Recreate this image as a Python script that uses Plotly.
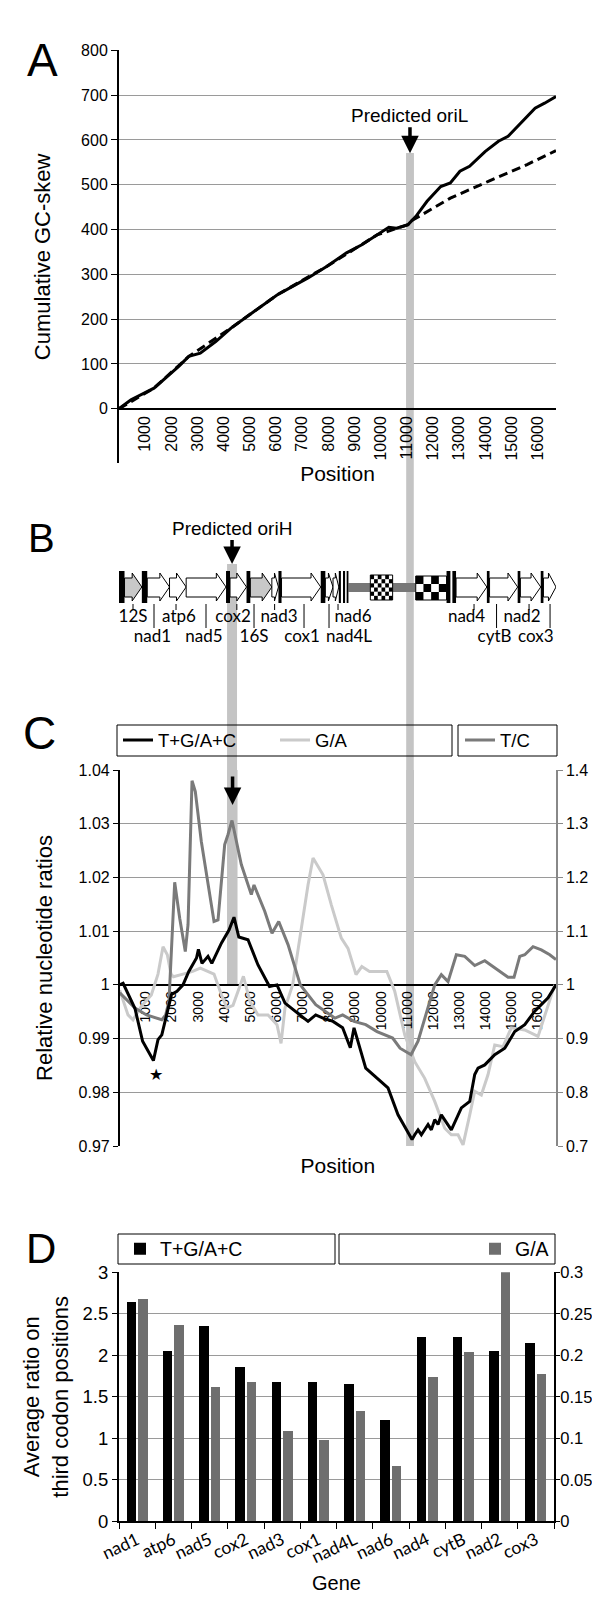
import plotly.graph_objects as go

W, H = 600, 1600
F = "Liberation Sans, Arial, sans-serif"
FL = "Lato, Carlito, sans-serif"


def py(p):
    return 1 - p / H


def pxf(p):
    return p / W


# ---------------- Panel A : cumulative GC-skew ----------------
a_pos = [0, 459, 1338, 1930, 2293, 2668, 3107, 3696, 4281, 5160, 6039, 6635, 7224,
         7950, 8695, 9280, 9861, 10312, 10606, 11046, 11340, 11772, 12295, 12662,
         13029, 13396, 13989, 14500, 14868, 15456, 15900, 16263, 16700]
a_skew = [0, 20, 46, 76, 95, 117, 124, 150, 180, 217, 254, 273, 292, 318, 348, 366,
          388, 405, 403, 411, 429, 463, 496, 504, 530, 541, 574, 597, 608, 645, 671,
          682, 697]
a_trend_pos = [0, 1338, 2668, 4281, 6039, 7950, 9861, 11046, 11191, 12662, 14133, 15594, 16700]
a_trend = [0, 46, 117, 180, 254, 318, 388, 411, 420, 470, 508, 545, 576]
pos_ticks = list(range(1000, 17000, 1000))
pos_tick_text = [str(v) for v in pos_ticks]
a_yticks = list(range(0, 900, 100))

oriL_pos = 11120
oriH_pos = 4320

# ---------------- Panel B : gene map ----------------
trna_start = [0, 873, 4090, 4873, 6093, 7709, 8400, 8560, 8700, 12517, 12740, 14058, 15235, 16117]
trna_end = [211, 1079, 4243, 5018, 6211, 7885, 8480, 8640, 8768, 12664, 12880, 14161, 15338, 16220]
gene_name = ['12S', 'nad1', 'atp6', 'nad5', 'cox2', '16S', 'nad3', 'cox1', 'nad4L', 'nad6',
             'nad4', 'cytB', 'nad2', 'cox3']
gene_start = [211, 1079, 1931, 2567, 4243, 5018, 5841, 6211, 7885, 8179, 12880, 14161, 15338, 16220]
gene_end = [873, 1931, 2567, 4090, 4873, 5841, 6093, 7709, 8179, 8400, 14058, 15235, 16117, 16700]
gene_rrna = [True, False, False, False, False, True, False, False, False, False, False, False, False, False]
ctrl_start, ctrl_end = 8768, 11340
checker_small = (9605, 10457)
checker_big = (11340, 12517)
row1_names = ['12S', 'atp6', 'cox2', 'nad3', 'nad6', 'nad4', 'nad2']
row1_x = [535, 2293, 4357, 6116, 8944, 13282, 15403]
row1_tick = [535, 2179, 4503, 5947, 8370, 13568, 15670]
row2_names = ['nad1', 'nad5', '16S', 'cox1', 'nad4L', 'cytB', 'cox3']
row2_x = [1277, 3249, 5160, 6994, 8791, 14351, 15927]
row2_line = [1338, 3325, 5160, 7071, 8026, 14428, 16473]

# ---------------- Panel C : relative nucleotide ratios ----------------
c_tgac_pos = [0, 130, 585, 877, 1290, 1466, 1612, 1983, 2193, 2423, 2645, 2940, 3013, 3150,
              3380, 3526, 3897, 4184, 4375, 4559, 4911, 5294, 5734, 6021, 6328, 6902, 7208,
              7503, 7782, 8165, 8533, 8827, 8969, 9417, 10270, 10653, 11036, 11189, 11293,
              11419, 11546, 11802, 11928, 12058, 12185, 12311, 12694, 13077, 13398, 13589,
              13716, 13973, 14355, 14738, 15121, 15504, 15887, 16396, 16700]
c_tgac = [1.000, 1.0003, 0.9956, 0.9895, 0.9859, 0.9898, 0.9907, 0.9982, 0.9988, 1.000,
          1.0025, 1.005, 1.0066, 1.004, 1.0053, 1.004, 1.0078, 1.0102, 1.0126, 1.0089,
          1.0084, 1.0037, 0.9997, 1.000, 0.9966, 0.9944, 0.9932, 0.9944, 0.9938, 0.9932,
          0.9920, 0.9883, 0.9920, 0.9845, 0.9808, 0.9758, 0.9727, 0.9712, 0.9721,
          0.9730, 0.9721, 0.9740, 0.9730, 0.9749, 0.9740, 0.9758, 0.9730, 0.9771, 0.9783,
          0.9833, 0.9845, 0.9851, 0.9870, 0.9882, 0.9913, 0.9926, 0.9951, 0.9976, 1.000]
c_ga_pos = [0, 318, 509, 827, 1210, 1466, 1658, 1822, 1964, 2056, 2423, 2791, 3085, 3380,
            3610, 3897, 4107, 4337, 4559, 4735, 4988, 5294, 5677, 6021, 6175, 6328, 6619,
            6913, 7208, 7400, 7782, 8100, 8483, 8739, 9046, 9268, 9562, 10225, 10527, 10910,
            11293, 11675, 12058, 12441, 12694, 12950, 13142, 13398, 13589, 13842, 14099,
            14355, 14673, 14990, 15503, 16012, 16269, 16652]
c_ga = [0.99, 0.944, 0.935, 0.960, 0.981, 1.02, 1.071, 1.056, 1.02, 1.015, 1.020, 1.025,
        1.031, 1.025, 1.020, 0.981, 0.957, 0.962, 0.994, 1.016, 0.969, 0.944, 0.944, 0.926,
        0.891, 0.957, 1.0, 1.093, 1.186, 1.236, 1.205, 1.149, 1.087, 1.068, 1.019, 1.034,
        1.025, 1.025, 0.988, 0.907, 0.857, 0.826, 0.783, 0.733, 0.721, 0.721, 0.702, 0.758,
        0.802, 0.795, 0.833, 0.888, 0.885, 0.920, 0.916, 0.904, 0.944, 1.0]
c_tc_pos = [0, 586, 1026, 1612, 1761, 1887, 2105, 2297, 2511, 2615, 2768, 2894, 3124, 3380,
            3610, 3763, 4019, 4146, 4299, 4655, 5038, 5141, 5551, 5830, 6087, 6443, 6913,
            7503, 8242, 8533, 8969, 9417, 9850, 10447, 10730, 11151, 11419, 12058, 12311,
            12567, 12885, 13207, 13589, 13973, 14482, 14865, 15093, 15312, 15504, 15821,
            16139, 16461, 16700]
c_tc = [0.985, 0.957, 0.944, 0.935, 0.944, 0.97, 1.191, 1.124, 1.062, 1.112, 1.380, 1.360,
        1.267, 1.186, 1.118, 1.121, 1.261, 1.28, 1.306, 1.224, 1.168, 1.186, 1.137, 1.096,
        1.118, 1.075, 1.000, 0.963, 0.938, 0.944, 0.932, 0.926, 0.913, 0.901, 0.882, 0.870,
        0.895, 1.000, 1.019, 1.006, 1.056, 1.053, 1.036, 1.045, 1.028, 1.014, 1.014, 1.053,
        1.056, 1.071, 1.065, 1.056, 1.047]
c_left_ticks = [0.97, 0.98, 0.99, 1.0, 1.01, 1.02, 1.03, 1.04]
c_left_text = ['0.97', '0.98', '0.99', '1', '1.01', '1.02', '1.03', '1.04']
c_right_ticks = [0.7, 0.8, 0.9, 1.0, 1.1, 1.2, 1.3, 1.4]
c_right_text = ['0.7', '0.8', '0.9', '1', '1.1', '1.2', '1.3', '1.4']
star_pos, star_val = 1401, 0.9834

# ---------------- Panel D : third codon positions ----------------
d_genes = ['nad1', 'atp6', 'nad5', 'cox2', 'nad3', 'cox1', 'nad4L', 'nad6', 'nad4', 'cytB', 'nad2', 'cox3']
d_tgac = [2.64, 2.05, 2.35, 1.86, 1.68, 1.68, 1.65, 1.22, 2.22, 2.22, 2.05, 2.14]
d_ga = [0.268, 0.236, 0.162, 0.168, 0.108, 0.097, 0.133, 0.066, 0.173, 0.204, 0.300, 0.177]
d_left_ticks = [0, 0.5, 1, 1.5, 2, 2.5, 3]
d_left_text = ['0', '0.5', '1', '1.5', '2', '2.5', '3']
d_right_ticks = [0, 0.05, 0.1, 0.15, 0.2, 0.25, 0.3]
d_right_text = ['0', '0.05', '0.1', '0.15', '0.2', '0.25', '0.3']

GRID = '#9a9a9a'
BAND = '#c4c4c4'
TC_COL = '#7a7a7a'
GA_COL = '#cacaca'

fig = go.Figure()

# A traces
fig.add_trace(go.Scatter(x=a_pos, y=a_skew, mode='lines', line=dict(color='black', width=3),
                         xaxis='x', yaxis='y', showlegend=False))
fig.add_trace(go.Scatter(x=a_trend_pos, y=a_trend, mode='lines',
                         line=dict(color='black', width=3, dash='9px,5px'),
                         xaxis='x', yaxis='y', showlegend=False))

# B labels
fig.add_trace(go.Scatter(x=row1_x + row2_x, y=[610] * len(row1_x) + [630] * len(row2_x),
                         mode='text', text=row1_names + row2_names,
                         textfont=dict(family=FL, size=17, color='black'),
                         xaxis='x2', yaxis='y2', showlegend=False, hoverinfo='skip'))

# C traces: ratio curves on right (base) axis y3, sum curve on left overlay axis y4 (drawn on top)
fig.add_trace(go.Scatter(x=c_ga_pos, y=c_ga, mode='lines', name='G/A',
                         line=dict(color=GA_COL, width=3), xaxis='x3', yaxis='y3',
                         legend='legend', legendrank=2))
fig.add_trace(go.Scatter(x=c_tc_pos, y=c_tc, mode='lines', name='T/C',
                         line=dict(color=TC_COL, width=3), xaxis='x3', yaxis='y3',
                         legend='legend2'))
fig.add_trace(go.Scatter(x=c_tgac_pos, y=c_tgac, mode='lines', name='T+G/A+C',
                         line=dict(color='black', width=3), xaxis='x3', yaxis='y4',
                         legend='legend', legendrank=1))

# D traces
fig.add_trace(go.Bar(x=d_genes, y=d_tgac, name='T+G/A+C', marker=dict(color='black', line=dict(width=0)),
                     width=0.265, offset=-0.29, xaxis='x5', yaxis='y5', legend='legend3'))
fig.add_trace(go.Bar(x=d_genes, y=d_ga, name='G/A', marker=dict(color='#6e6e6e', line=dict(width=0)),
                     width=0.265, offset=0.025, xaxis='x5', yaxis='y6', legend='legend4'))

shapes = []
# bands (continuous, behind everything) + in-plot parts above gridlines
shapes.append(dict(type='rect', xref='x', yref='paper', x0=oriL_pos - 145, x1=oriL_pos + 145,
                   y0=py(1138), y1=py(145), fillcolor=BAND, line=dict(width=0), layer='below'))
shapes.append(dict(type='rect', xref='x', yref='paper', x0=oriH_pos - 190, x1=oriH_pos + 190,
                   y0=py(976.7), y1=py(556), fillcolor=BAND, line=dict(width=0), layer='below'))
shapes.append(dict(type='rect', xref='x', yref='y', x0=oriL_pos - 145, x1=oriL_pos + 145,
                   y0=0, y1=570, fillcolor=BAND, line=dict(width=0), layer='between'))
shapes.append(dict(type='rect', xref='x3', yref='y3', x0=oriL_pos - 145, x1=oriL_pos + 145,
                   y0=0.7, y1=1.4, fillcolor=BAND, line=dict(width=0), layer='between'))
shapes.append(dict(type='rect', xref='x3', yref='y3', x0=oriH_pos - 190, x1=oriH_pos + 190,
                   y0=1.0, y1=1.4, fillcolor=BAND, line=dict(width=0), layer='between'))

# B gene map
shapes.append(dict(type='rect', xref='x2', yref='y2', x0=ctrl_start, x1=ctrl_end, y0=575, y1=584,
                   fillcolor='#777777', line=dict(width=0)))
for s, e, name, rr in zip(gene_start, gene_end, gene_name, gene_rrna):
    head = min(370, 0.6 * (e - s))
    xh = e - head
    path = (f"M{s},570 L{xh},570 L{xh},565 L{e},579 L{xh},593 L{xh},589 L{s},589 Z")
    shapes.append(dict(type='path', xref='x2', yref='y2', path=path,
                       fillcolor='#c8c8c8' if rr else 'white', line=dict(color='black', width=1)))
for s, e in zip(trna_start, trna_end):
    shapes.append(dict(type='rect', xref='x2', yref='y2', x0=s, x1=e, y0=563, y1=595,
                       fillcolor='black', line=dict(width=0)))


def checker(x0, x1, y0, y1, nc, nr):
    out = [dict(type='rect', xref='x2', yref='y2', x0=x0, x1=x1, y0=y0, y1=y1,
                fillcolor='white', line=dict(color='black', width=1))]
    dx = (x1 - x0) / nc
    dy = (y1 - y0) / nr
    for i in range(nc):
        for j in range(nr):
            if (i + j) % 2 == 0:
                out.append(dict(type='rect', xref='x2', yref='y2', x0=x0 + i * dx, x1=x0 + (i + 1) * dx,
                                y0=y0 + j * dy, y1=y0 + (j + 1) * dy, fillcolor='black',
                                line=dict(width=0)))
    return out


shapes += checker(checker_small[0], checker_small[1], 567, 592, 6, 6)
shapes += checker(checker_big[0], checker_big[1], 568, 592, 4, 3)
for x in row1_tick:
    shapes.append(dict(type='line', xref='x2', yref='y2', x0=x, x1=x, y0=596, y1=602,
                       line=dict(color='black', width=1)))
for x in row2_line:
    shapes.append(dict(type='line', xref='x2', yref='y2', x0=x, x1=x, y0=596, y1=620,
                       line=dict(color='black', width=1)))

# legend boxes
for (x0, x1, y0, y1) in [(109, 444, 717, 748), (450, 549, 717, 748),
                         (110, 327, 1226, 1256), (331, 547, 1226, 1256)]:
    shapes.append(dict(type='rect', xref='paper', yref='paper', x0=pxf(x0), x1=pxf(x1),
                       y0=py(y1), y1=py(y0), line=dict(color='black', width=1),
                       fillcolor='rgba(0,0,0,0)'))

annotations = []
for letter, x, y, sz in [('A', 34, 52, 46), ('B', 33, 530, 40), ('C', 31, 725, 46), ('D', 33, 1240, 42)]:
    annotations.append(dict(text=letter, x=pxf(x), y=py(y), xref='paper', yref='paper',
                            showarrow=False, font=dict(family=F, size=sz, color='black'),
                            xanchor='center', yanchor='middle'))
annotations.append(dict(text='Gene', x=pxf(328.5), y=py(1575), xref='paper', yref='paper',
                        showarrow=False, font=dict(family=F, size=20, color='black'),
                        xanchor='center', yanchor='middle'))
annotations.append(dict(text='Predicted oriL', x=oriL_pos, y=570, xref='x', yref='y',
                        showarrow=True, ax=0, ay=-38, arrowhead=2, arrowsize=1, arrowwidth=3.5,
                        arrowcolor='black', font=dict(family=F, size=19, color='black')))
annotations.append(dict(text='Predicted oriH', x=oriH_pos, y=556, xref='x2', yref='y2',
                        showarrow=True, ax=0, ay=-36, arrowhead=2, arrowsize=1, arrowwidth=3.5,
                        arrowcolor='black', font=dict(family=F, size=19, color='black')))
annotations.append(dict(text='', x=oriH_pos, y=1.0335, xref='x3', yref='y4',
                        showarrow=True, ax=0, ay=-30, arrowhead=2, arrowsize=1, arrowwidth=3.5,
                        arrowcolor='black'))
annotations.append(dict(text='★', x=star_pos, y=star_val, xref='x3', yref='y4', showarrow=False,
                        font=dict(family='DejaVu Sans', size=16, color='black')))

tickfont = dict(family=F, size=16, color='black')
leg_common = dict(orientation='h', bgcolor='rgba(0,0,0,0)', borderwidth=0,
                  yanchor='middle', traceorder='normal',
                  itemclick=False, itemdoubleclick=False)

fig.update_layout(
    width=W, height=H, margin=dict(l=0, r=0, t=0, b=0),
    paper_bgcolor='white', plot_bgcolor='rgba(0,0,0,0)',
    font=dict(family=F, color='black'),
    shapes=shapes, annotations=annotations,
    bargap=0,
    xaxis=dict(domain=[pxf(111), pxf(548)], range=[0, 16700], anchor='free', position=py(400.7),
               tickmode='array', tickvals=pos_ticks, ticktext=pos_tick_text, tickangle=-90,
               tickfont=dict(family=F, size=16),
               showgrid=False, zeroline=False, showline=True, linecolor='black', linewidth=2,
               ticks='', automargin=False,
               title=dict(text='Position', font=dict(family=F, size=21), standoff=6)),
    yaxis=dict(domain=[py(455.4), py(42.3)], range=[-122, 800], anchor='x',
               tickmode='array', tickvals=a_yticks, tickfont=tickfont,
               showgrid=True, gridcolor=GRID, gridwidth=1, zeroline=False,
               showline=True, linecolor='black', linewidth=2, ticks='outside', ticklen=6,
               tickcolor='black', automargin=False,
               title=dict(text='Cumulative GC-skew', font=dict(family=F, size=22), standoff=24)),
    xaxis2=dict(domain=[pxf(111), pxf(548)], range=[0, 16700], anchor='y2', visible=False),
    yaxis2=dict(domain=[py(650), py(500)], range=[650, 500], anchor='x2', visible=False),
    xaxis3=dict(domain=[pxf(111.7), pxf(548)], range=[0, 16700], anchor='free', position=py(976.7),
                tickmode='array', tickvals=pos_ticks, ticktext=pos_tick_text, tickangle=-90,
                tickfont=dict(family=F, size=14),
                showgrid=False, zeroline=False, showline=True, linecolor='black', linewidth=2,
                ticks='', layer='below traces', automargin=False,
                title=dict(text='Position', font=dict(family=F, size=21), standoff=128)),
    yaxis3=dict(domain=[py(1138), py(762)], range=[0.7, 1.4], anchor='x3', side='right',
                tickmode='array', tickvals=c_right_ticks, ticktext=c_right_text, tickfont=tickfont,
                showgrid=False, zeroline=False, showline=True, linecolor='#888888', linewidth=1.5,
                ticks='outside', ticklen=5, tickcolor='#888888', automargin=False),
    yaxis4=dict(overlaying='y3', side='left', anchor='x3', range=[0.97, 1.04],
                tickmode='array', tickvals=c_left_ticks, ticktext=c_left_text, tickfont=tickfont,
                showgrid=True, gridcolor=GRID, gridwidth=1, zeroline=False,
                showline=True, linecolor='black', linewidth=1.5, ticks='outside', ticklen=5,
                tickcolor='black', automargin=False,
                title=dict(text='Relative nucleotide ratios', font=dict(family=F, size=22), standoff=20)),
    xaxis5=dict(domain=[pxf(111), pxf(546)], anchor='y5', type='category',
                categoryorder='array', categoryarray=d_genes,
                tickangle=-25, tickfont=dict(family=FL, size=17.5), ticks='outside', ticklen=6,
                tickson='boundaries', tickcolor='black', showline=True, linecolor='black', linewidth=2,
                showgrid=False, automargin=False),
    yaxis5=dict(domain=[py(1513.3), py(1264.3)], range=[0, 3], anchor='x5',
                tickmode='array', tickvals=d_left_ticks, ticktext=d_left_text,
                tickfont=dict(family=F, size=18.5), showgrid=True, gridcolor=GRID, zeroline=False,
                showline=True, linecolor='black', linewidth=2, ticks='outside', ticklen=5,
                tickcolor='black', automargin=False,
                title=dict(text='Average ratio on<br>third codon positions',
                           font=dict(family=F, size=22), standoff=8)),
    yaxis6=dict(overlaying='y5', side='right', anchor='x5', range=[0, 0.3],
                tickmode='array', tickvals=d_right_ticks, ticktext=d_right_text,
                tickfont=dict(family=F, size=16.5), showgrid=False, zeroline=False,
                showline=True, linecolor='black', linewidth=2, ticks='outside', ticklen=4,
                ticklabelstandoff=-3,
                tickcolor='black', automargin=False),
    legend=dict(x=pxf(110), y=py(732.5), xanchor='left', entrywidth=112, entrywidthmode='pixels',
                font=dict(family=F, size=18.5), **leg_common),
    legend2=dict(x=pxf(452), y=py(732.5), xanchor='left', font=dict(family=F, size=18.5), **leg_common),
    legend3=dict(x=pxf(112), y=py(1241), xanchor='left', font=dict(family=F, size=19.5), **leg_common),
    legend4=dict(x=pxf(546), y=py(1241), xanchor='right', font=dict(family=F, size=19.5), **leg_common),
)

fig.write_html("out.html")
